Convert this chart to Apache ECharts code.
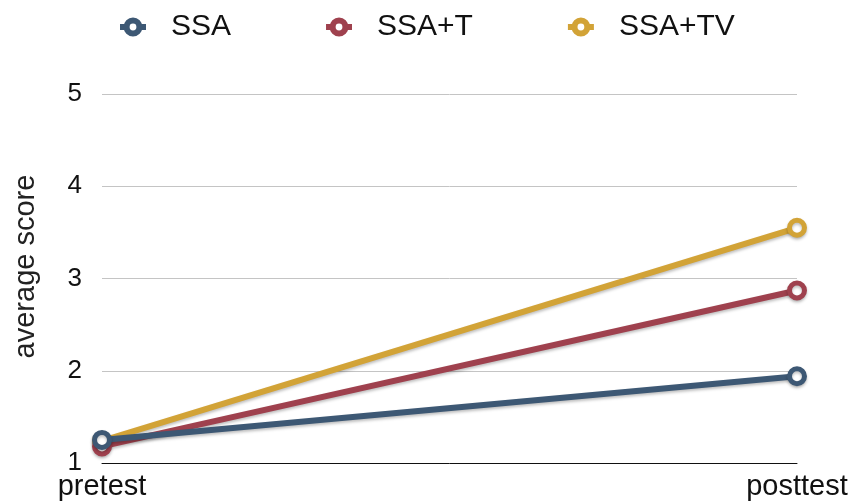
<!DOCTYPE html>
<html>
<head>
<meta charset="utf-8">
<script src="https://cdn.jsdelivr.net/npm/echarts@6/dist/echarts.min.js"></script>
<style>
  html, body { margin: 0; padding: 0; background: #fff; }
  #chart { width: 855px; height: 504px; }
</style>
</head>
<body>
<div id="chart"></div>
<script>
  // data
  const categories = ['pretest', 'posttest']
  const seriesNames = ['SSA', 'SSA+T', 'SSA+TV']
  const ssa = [1.25, 1.94]
  const ssaT = [1.18, 2.87]
  const ssaTV = [1.24, 3.55]
  const yTicks = [1, 2, 3, 4, 5]

  const colors = ['#3d5874', '#9f414e', '#d2a337']
  const font = 'Liberation Sans, Helvetica, Arial, sans-serif'

  const chart = echarts.init(document.getElementById('chart'))

  function line(name, data, color, z) {
    return {
      name: name,
      type: 'line',
      data: data,
      z: z,
      symbol: 'circle',
      symbolSize: 15,
      showSymbol: true,
      lineStyle: {
        width: 6,
        color: color,
        shadowColor: 'rgba(0,0,0,0.25)',
        shadowBlur: 3,
        shadowOffsetY: 2,
      },
      itemStyle: {
        color: '#fff',
        borderColor: color,
        borderWidth: 5,
        shadowColor: 'rgba(0,0,0,0.25)',
        shadowBlur: 3,
        shadowOffsetY: 2,
      },
      emphasis: { disabled: true },
    }
  }

  const option = {
    animation: false,
    color: colors,
    legend: {
      data: seriesNames,
      top: 12,
      left: 117,
      padding: 0,
      itemGap: 92,
      itemWidth: 26,
      itemHeight: 16,
      itemStyle: { borderWidth: 6, shadowBlur: 0, shadowOffsetY: 0 },
      lineStyle: { width: 6, shadowBlur: 0, shadowOffsetY: 0 },
      textStyle: { fontSize: 30, color: '#111', fontFamily: font, padding: [0, 0, 0, 20] },
    },
    grid: {
      left: 102,
      right: 58,
      top: 94,
      bottom: 41,
    },
    xAxis: {
      type: 'category',
      data: categories,
      boundaryGap: false,
      axisLine: { show: true, lineStyle: { color: '#111', width: 1 } },
      axisTick: { show: false },
      axisLabel: {
        fontSize: 29,
        color: '#111',
        fontFamily: font,
        margin: 9,
      },
    },
    yAxis: {
      type: 'value',
      min: yTicks[0],
      max: yTicks[yTicks.length - 1],
      interval: 1,
      name: 'average score',
      nameLocation: 'middle',
      nameGap: 62,
      nameTextStyle: { fontSize: 29, color: '#222', fontFamily: font, padding: [0, 0, 0, 24] },
      axisLine: { show: false },
      axisTick: { show: false },
      axisLabel: {
        fontSize: 26,
        color: '#111',
        fontFamily: font,
        margin: 20,
      },
      splitLine: {
        lineStyle: { color: '#c4c4c4', width: 1 },
      },
    },
    series: [
      line(seriesNames[0], ssa, colors[0], 4),
      line(seriesNames[1], ssaT, colors[1], 3),
      line(seriesNames[2], ssaTV, colors[2], 2),
    ],
  }

  chart.setOption(option)
</script>
</body>
</html>
